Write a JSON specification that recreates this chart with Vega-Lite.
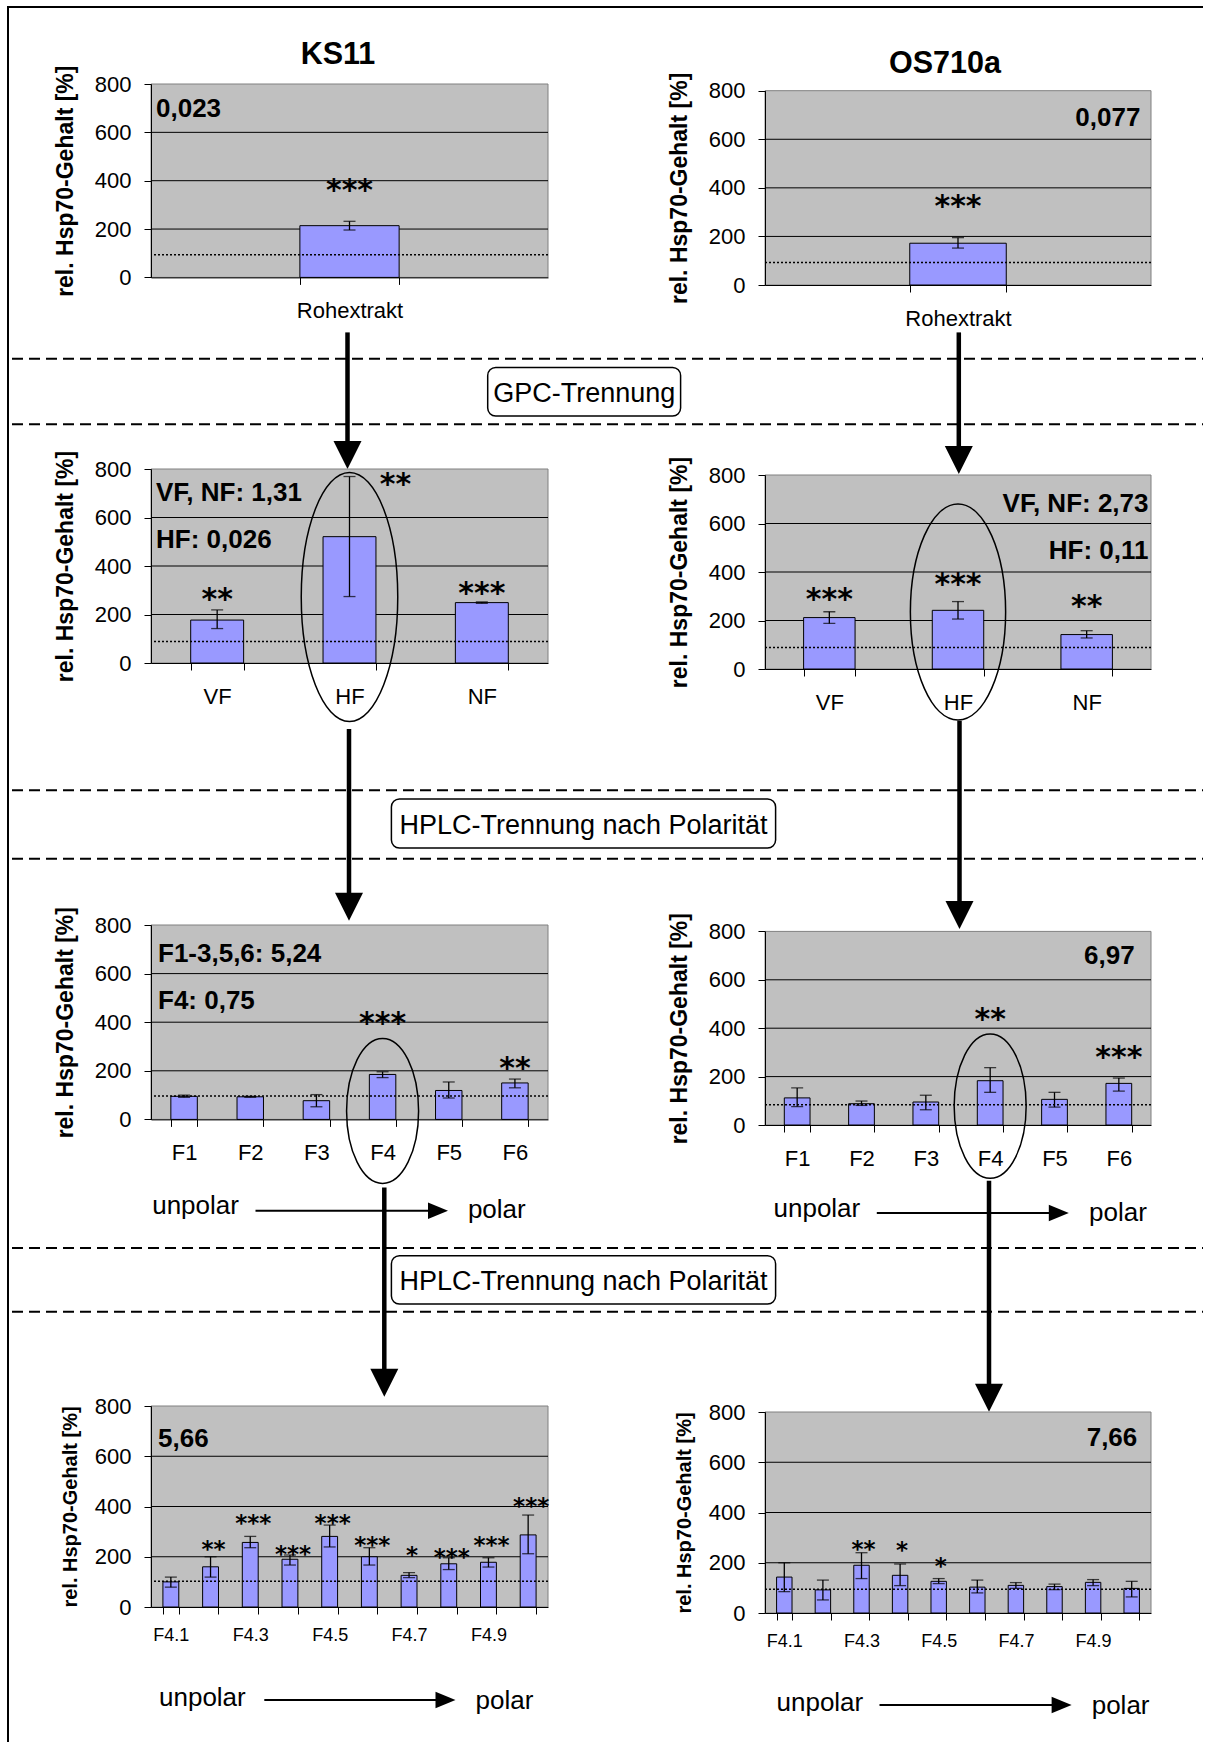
{
"$schema": "https://vega.github.io/schema/vega-lite/v6.json",
"background": "white",
"padding": {"left": 6, "top": 0, "right": 0, "bottom": 0},
"config": {
  "view": {"stroke": null},
  "font": "Liberation Sans",
  "axis": {"labelFont": "Liberation Sans", "titleFont": "Liberation Sans", "domainColor": "black", "tickColor": "black", "labelColor": "black", "titleColor": "black", "grid": false, "domainWidth": 1, "tickWidth": 1}
},
"datasets": {
  "one": [{"n": 1}],
  "ks_roh": [{"fraction": "Rohextrakt", "value": 214, "lo": 196, "hi": 232, "sig": "***", "sig_y": 389}],
  "os_roh": [{"fraction": "Rohextrakt", "value": 172, "lo": 152, "hi": 195, "sig": "***", "sig_y": 355}],
  "ks_gpc": [
    {"fraction": "VF", "value": 177, "lo": 142, "hi": 219, "sig": "**", "sig_y": 291},
    {"fraction": "HF", "value": 521, "lo": 274, "hi": 769, "sig": "**", "sig_y": 766},
    {"fraction": "NF", "value": 249, "lo": 246, "hi": 252, "sig": "***", "sig_y": 316}],
  "os_gpc": [
    {"fraction": "VF", "value": 212, "lo": 188, "hi": 236, "sig": "***", "sig_y": 316},
    {"fraction": "HF", "value": 242, "lo": 206, "hi": 278, "sig": "***", "sig_y": 378},
    {"fraction": "NF", "value": 142, "lo": 128, "hi": 158, "sig": "**", "sig_y": 289}],
  "ks_hplc": [
    {"fraction": "F1", "value": 95, "lo": 91, "hi": 100, "sig": "", "sig_y": null},
    {"fraction": "F2", "value": 93, "lo": 91, "hi": 95, "sig": "", "sig_y": null},
    {"fraction": "F3", "value": 77, "lo": 52, "hi": 102, "sig": "", "sig_y": null},
    {"fraction": "F4", "value": 185, "lo": 172, "hi": 196, "sig": "***", "sig_y": 427},
    {"fraction": "F5", "value": 119, "lo": 88, "hi": 154, "sig": "", "sig_y": null},
    {"fraction": "F6", "value": 150, "lo": 130, "hi": 166, "sig": "**", "sig_y": 241}],
  "os_hplc": [
    {"fraction": "F1", "value": 112, "lo": 76, "hi": 153, "sig": "", "sig_y": null},
    {"fraction": "F2", "value": 88, "lo": 81, "hi": 99, "sig": "", "sig_y": null},
    {"fraction": "F3", "value": 95, "lo": 63, "hi": 123, "sig": "", "sig_y": null},
    {"fraction": "F4", "value": 183, "lo": 135, "hi": 237, "sig": "**", "sig_y": 468},
    {"fraction": "F5", "value": 106, "lo": 74, "hi": 135, "sig": "", "sig_y": null},
    {"fraction": "F6", "value": 172, "lo": 140, "hi": 194, "sig": "***", "sig_y": 310}],
  "ks_f4": [
    {"fraction": "F4.1", "value": 100, "lo": 79, "hi": 119, "sig": "", "sig_y": null},
    {"fraction": "F4.2", "value": 160, "lo": 119, "hi": 200, "sig": "**", "sig_y": 249},
    {"fraction": "F4.3", "value": 257, "lo": 236, "hi": 281, "sig": "***", "sig_y": 355},
    {"fraction": "F4.4", "value": 190, "lo": 167, "hi": 207, "sig": "***", "sig_y": 229},
    {"fraction": "F4.5", "value": 281, "lo": 239, "hi": 326, "sig": "***", "sig_y": 353},
    {"fraction": "F4.6", "value": 200, "lo": 167, "hi": 236, "sig": "***", "sig_y": 265},
    {"fraction": "F4.7", "value": 126, "lo": 117, "hi": 137, "sig": "*", "sig_y": 225},
    {"fraction": "F4.8", "value": 172, "lo": 149, "hi": 196, "sig": "***", "sig_y": 220},
    {"fraction": "F4.9", "value": 178, "lo": 159, "hi": 196, "sig": "***", "sig_y": 265},
    {"fraction": "F4.10", "value": 287, "lo": 212, "hi": 366, "sig": "***", "sig_y": 422}],
  "os_f4": [
    {"fraction": "F4.1", "value": 143, "lo": 85, "hi": 200, "sig": "", "sig_y": null},
    {"fraction": "F4.2", "value": 92, "lo": 52, "hi": 131, "sig": "", "sig_y": null},
    {"fraction": "F4.3", "value": 190, "lo": 137, "hi": 240, "sig": "**", "sig_y": 276},
    {"fraction": "F4.4", "value": 150, "lo": 109, "hi": 195, "sig": "*", "sig_y": 270},
    {"fraction": "F4.5", "value": 126, "lo": 117, "hi": 137, "sig": "*", "sig_y": 207},
    {"fraction": "F4.6", "value": 103, "lo": 80, "hi": 131, "sig": "", "sig_y": null},
    {"fraction": "F4.7", "value": 110, "lo": 98, "hi": 121, "sig": "", "sig_y": null},
    {"fraction": "F4.8", "value": 105, "lo": 93, "hi": 115, "sig": "", "sig_y": null},
    {"fraction": "F4.9", "value": 122, "lo": 109, "hi": 133, "sig": "", "sig_y": null},
    {"fraction": "F4.10", "value": 98, "lo": 64, "hi": 126, "sig": "", "sig_y": null}]
},
"columns": 2,
"bounds": "flush",
"align": "each",
"spacing": {"row": 0, "column": 217},
"concat": [
{"width": 397, "height": 83.3, "data": {"name": "one"}, "layer": [
  {"mark": {"type": "rule", "color": "black", "strokeWidth": 2}, "encoding": {"x": {"datum": 7, "type": "quantitative", "scale": {"domain": [150, 547], "nice": false, "zero": false}, "axis": null}, "y": {"datum": 7, "type": "quantitative", "scale": {"domain": [0, 83.3], "reverse": true, "nice": false, "zero": false}, "axis": null}, "y2": {"datum": 1742}}},
  {"mark": {"type": "rule", "color": "black", "strokeWidth": 2}, "encoding": {"x": {"datum": 6, "type": "quantitative", "axis": null}, "x2": {"datum": 1202}, "y": {"datum": 7, "type": "quantitative", "axis": null}}},
  {"mark": {"type": "text", "text": "KS11", "fontSize": 30.5, "fontWeight": "bold", "baseline": "middle", "color": "black"}, "encoding": {"x": {"datum": 337, "type": "quantitative", "axis": null}, "y": {"datum": 55.1, "type": "quantitative", "axis": null}}}
]},
{"width": 386, "height": 83.3, "data": {"name": "one"}, "layer": [
  {"mark": {"type": "text", "text": "OS710a", "fontSize": 30.5, "fontWeight": "bold", "baseline": "middle", "color": "black"}, "encoding": {"x": {"datum": 944, "type": "quantitative", "scale": {"domain": [764, 1150], "nice": false, "zero": false}, "axis": null}, "y": {"datum": 63.5, "type": "quantitative", "scale": {"domain": [0, 83.3], "reverse": true, "nice": false, "zero": false}, "axis": null}}}
]},
{"width": 397, "height": 193.4, "layer": [
  {"data": {"name": "one"}, "mark": {"type": "rect", "fill": "#c0c0c0", "stroke": "#808080", "strokeWidth": 1}, "encoding": {"y": {"datum": 0, "type": "quantitative", "scale": {"domain": [0, 800], "nice": false}, "axis": {"title": "rel. Hsp70-Gehalt [%]", "values": [0, 200, 400, 600, 800], "grid": false, "labelFontSize": 22, "labelPadding": 13, "tickSize": 7, "titleFontSize": 23, "titleFontWeight": "bold", "titlePadding": 17, "zindex": 1}}, "y2": {"datum": 800}}},
  {"data": {"name": "one"}, "mark": {"type": "rule", "color": "black", "strokeWidth": 1}, "encoding": {"y": {"datum": 200, "type": "quantitative"}}},
  {"data": {"name": "one"}, "mark": {"type": "rule", "color": "black", "strokeWidth": 1}, "encoding": {"y": {"datum": 400, "type": "quantitative"}}},
  {"data": {"name": "one"}, "mark": {"type": "rule", "color": "black", "strokeWidth": 1}, "encoding": {"y": {"datum": 600, "type": "quantitative"}}},
  {"data": {"name": "ks_roh"}, "mark": {"type": "bar", "fill": "#9999ff", "stroke": "black", "strokeWidth": 1}, "encoding": {"x": {"field": "fraction", "type": "nominal", "scale": {"domain": ["Rohextrakt"], "paddingInner": 0.75, "paddingOuter": 0.375}, "axis": {"title": null, "tickBand": "extent", "labelAngle": 0, "labelFontSize": 22, "labelPadding": 16, "tickSize": 7, "zindex": 1}}, "y": {"field": "value", "type": "quantitative"}}},
  {"data": {"name": "one"}, "mark": {"type": "rule", "color": "black", "strokeWidth": 1.5, "strokeDash": [2, 2]}, "encoding": {"y": {"datum": 94, "type": "quantitative"}}},
  {"data": {"name": "ks_roh"}, "mark": {"type": "rule", "color": "black", "strokeWidth": 1.3}, "encoding": {"x": {"field": "fraction", "type": "nominal"}, "y": {"field": "lo", "type": "quantitative"}, "y2": {"field": "hi"}}},
  {"data": {"name": "ks_roh"}, "transform": [{"fold": ["lo", "hi"], "as": ["end", "level"]}], "mark": {"type": "tick", "color": "black", "size": 12, "thickness": 1.3}, "encoding": {"x": {"field": "fraction", "type": "nominal"}, "y": {"field": "level", "type": "quantitative"}}},
  {"data": {"name": "ks_roh"}, "transform": [{"filter": "isValid(datum.sig_y)"}], "mark": {"type": "text", "font": "DejaVu Sans", "fontWeight": "bold", "fontSize": 30, "baseline": "middle", "dy": 8, "color": "black"}, "encoding": {"x": {"field": "fraction", "type": "nominal"}, "y": {"field": "sig_y", "type": "quantitative"}, "text": {"field": "sig"}}},
  {"data": {"name": "one"}, "mark": {"type": "text", "text": "0,023", "fontSize": 26, "fontWeight": "bold", "align": "left", "baseline": "middle", "x": 5, "color": "black"}, "encoding": {"y": {"datum": 697, "type": "quantitative"}}}
]},
{"width": 386, "height": 201, "layer": [
  {"data": {"name": "one"}, "mark": {"type": "rect", "fill": "#c0c0c0", "stroke": "#808080", "strokeWidth": 1}, "encoding": {"y": {"datum": 0, "type": "quantitative", "scale": {"domain": [0, 800], "nice": false, "range": [201, 6.7]}, "axis": {"title": "rel. Hsp70-Gehalt [%]", "values": [0, 200, 400, 600, 800], "grid": false, "labelFontSize": 22, "labelPadding": 13, "tickSize": 7, "titleFontSize": 23, "titleFontWeight": "bold", "titlePadding": 17, "zindex": 1}}, "y2": {"datum": 800}}},
  {"data": {"name": "one"}, "mark": {"type": "rule", "color": "black", "strokeWidth": 1}, "encoding": {"y": {"datum": 200, "type": "quantitative"}}},
  {"data": {"name": "one"}, "mark": {"type": "rule", "color": "black", "strokeWidth": 1}, "encoding": {"y": {"datum": 400, "type": "quantitative"}}},
  {"data": {"name": "one"}, "mark": {"type": "rule", "color": "black", "strokeWidth": 1}, "encoding": {"y": {"datum": 600, "type": "quantitative"}}},
  {"data": {"name": "os_roh"}, "mark": {"type": "bar", "fill": "#9999ff", "stroke": "black", "strokeWidth": 1}, "encoding": {"x": {"field": "fraction", "type": "nominal", "scale": {"domain": ["Rohextrakt"], "paddingInner": 0.75, "paddingOuter": 0.375}, "axis": {"title": null, "tickBand": "extent", "labelAngle": 0, "labelFontSize": 22, "labelPadding": 16, "tickSize": 7, "zindex": 1}}, "y": {"field": "value", "type": "quantitative"}}},
  {"data": {"name": "one"}, "mark": {"type": "rule", "color": "black", "strokeWidth": 1.5, "strokeDash": [2, 2]}, "encoding": {"y": {"datum": 93, "type": "quantitative"}}},
  {"data": {"name": "os_roh"}, "mark": {"type": "rule", "color": "black", "strokeWidth": 1.3}, "encoding": {"x": {"field": "fraction", "type": "nominal"}, "y": {"field": "lo", "type": "quantitative"}, "y2": {"field": "hi"}}},
  {"data": {"name": "os_roh"}, "transform": [{"fold": ["lo", "hi"], "as": ["end", "level"]}], "mark": {"type": "tick", "color": "black", "size": 12, "thickness": 1.3}, "encoding": {"x": {"field": "fraction", "type": "nominal"}, "y": {"field": "level", "type": "quantitative"}}},
  {"data": {"name": "os_roh"}, "transform": [{"filter": "isValid(datum.sig_y)"}], "mark": {"type": "text", "font": "DejaVu Sans", "fontWeight": "bold", "fontSize": 30, "baseline": "middle", "dy": 8, "color": "black"}, "encoding": {"x": {"field": "fraction", "type": "nominal"}, "y": {"field": "sig_y", "type": "quantitative"}, "text": {"field": "sig"}}},
  {"data": {"name": "one"}, "mark": {"type": "text", "text": "0,077", "fontSize": 26, "fontWeight": "bold", "align": "right", "baseline": "middle", "x": "width", "dx": -10.6, "color": "black"}, "encoding": {"y": {"datum": 688, "type": "quantitative"}}}
]},
{"width": 397, "height": 184, "data": {"name": "one"}, "layer": [
  {"mark": {"type": "rule", "color": "black", "strokeWidth": 2, "strokeDash": [11, 6]}, "encoding": {"x": {"datum": 11, "type": "quantitative", "scale": {"domain": [150, 547], "nice": false, "zero": false}, "axis": null}, "x2": {"datum": 1202}, "y": {"datum": 358, "type": "quantitative", "scale": {"domain": [284.3, 468.3], "reverse": true, "nice": false, "zero": false}, "axis": null}}},
  {"mark": {"type": "rule", "color": "black", "strokeWidth": 2, "strokeDash": [11, 6]}, "encoding": {"x": {"datum": 11, "type": "quantitative", "axis": null}, "x2": {"datum": 1202}, "y": {"datum": 423.5, "type": "quantitative", "axis": null}}},
  {"mark": {"type": "rect", "fill": "white", "stroke": "black", "strokeWidth": 1.5, "cornerRadius": 8}, "encoding": {"x": {"datum": 486.7, "type": "quantitative", "axis": null}, "x2": {"datum": 679.6}, "y": {"datum": 366.7, "type": "quantitative", "axis": null}, "y2": {"datum": 415.3}}},
  {"mark": {"type": "text", "text": "GPC-Trennung", "fontSize": 27, "align": "center", "baseline": "alphabetic", "color": "black"}, "encoding": {"x": {"datum": 583.2, "type": "quantitative", "axis": null}, "y": {"datum": 400.9, "type": "quantitative", "axis": null}}},
  {"mark": {"type": "rule", "color": "black", "strokeWidth": 4.5}, "encoding": {"x": {"datum": 346.5, "type": "quantitative", "axis": null}, "y": {"datum": 331.7, "type": "quantitative", "axis": null}, "y2": {"datum": 448}}},
  {"mark": {"type": "point", "shape": "M -1 -1 L 1 -1 L 0 1 Z", "size": 784, "filled": true, "color": "black", "opacity": 1, "strokeWidth": 0}, "encoding": {"x": {"datum": 346.5, "type": "quantitative", "axis": null}, "y": {"datum": 454.3, "type": "quantitative", "axis": null}}}
]},
{"width": 386, "height": 184, "data": {"name": "one"}, "layer": [
  {"mark": {"type": "rule", "color": "black", "strokeWidth": 4.5}, "encoding": {"x": {"datum": 957.8, "type": "quantitative", "scale": {"domain": [764, 1150], "nice": false, "zero": false}, "axis": null}, "y": {"datum": 331.7, "type": "quantitative", "scale": {"domain": [284.3, 468.3], "reverse": true, "nice": false, "zero": false}, "axis": null}, "y2": {"datum": 453}}},
  {"mark": {"type": "point", "shape": "M -1 -1 L 1 -1 L 0 1 Z", "size": 784, "filled": true, "color": "black", "opacity": 1, "strokeWidth": 0}, "encoding": {"x": {"datum": 957.8, "type": "quantitative", "axis": null}, "y": {"datum": 459.3, "type": "quantitative", "axis": null}}}
]},
{"width": 397, "height": 194, "layer": [
  {"data": {"name": "one"}, "mark": {"type": "rect", "fill": "#c0c0c0", "stroke": "#808080", "strokeWidth": 1}, "encoding": {"y": {"datum": 0, "type": "quantitative", "scale": {"domain": [0, 800], "nice": false}, "axis": {"title": "rel. Hsp70-Gehalt [%]", "values": [0, 200, 400, 600, 800], "grid": false, "labelFontSize": 22, "labelPadding": 13, "tickSize": 7, "titleFontSize": 23, "titleFontWeight": "bold", "titlePadding": 17, "zindex": 1}}, "y2": {"datum": 800}}},
  {"data": {"name": "one"}, "mark": {"type": "rule", "color": "black", "strokeWidth": 1}, "encoding": {"y": {"datum": 200, "type": "quantitative"}}},
  {"data": {"name": "one"}, "mark": {"type": "rule", "color": "black", "strokeWidth": 1}, "encoding": {"y": {"datum": 400, "type": "quantitative"}}},
  {"data": {"name": "one"}, "mark": {"type": "rule", "color": "black", "strokeWidth": 1}, "encoding": {"y": {"datum": 600, "type": "quantitative"}}},
  {"data": {"name": "ks_gpc"}, "mark": {"type": "bar", "fill": "#9999ff", "stroke": "black", "strokeWidth": 1}, "encoding": {"x": {"field": "fraction", "type": "nominal", "scale": {"domain": ["VF", "HF", "NF"], "paddingInner": 0.6, "paddingOuter": 0.3}, "axis": {"title": null, "tickBand": "extent", "labelAngle": 0, "labelFontSize": 22, "labelPadding": 16, "tickSize": 7, "zindex": 1}}, "y": {"field": "value", "type": "quantitative"}}},
  {"data": {"name": "one"}, "mark": {"type": "rule", "color": "black", "strokeWidth": 1.5, "strokeDash": [2, 2]}, "encoding": {"y": {"datum": 89, "type": "quantitative"}}},
  {"data": {"name": "ks_gpc"}, "mark": {"type": "rule", "color": "black", "strokeWidth": 1.3}, "encoding": {"x": {"field": "fraction", "type": "nominal"}, "y": {"field": "lo", "type": "quantitative"}, "y2": {"field": "hi"}}},
  {"data": {"name": "ks_gpc"}, "transform": [{"fold": ["lo", "hi"], "as": ["end", "level"]}], "mark": {"type": "tick", "color": "black", "size": 12, "thickness": 1.3}, "encoding": {"x": {"field": "fraction", "type": "nominal"}, "y": {"field": "level", "type": "quantitative"}}},
  {"data": {"name": "ks_gpc"}, "transform": [{"filter": "isValid(datum.sig_y) && datum.fraction != 'HF'"}], "mark": {"type": "text", "font": "DejaVu Sans", "fontWeight": "bold", "fontSize": 30, "baseline": "middle", "dy": 8, "color": "black"}, "encoding": {"x": {"field": "fraction", "type": "nominal"}, "y": {"field": "sig_y", "type": "quantitative"}, "text": {"field": "sig"}}},
  {"data": {"name": "ks_gpc"}, "transform": [{"filter": "datum.fraction == 'HF'"}], "mark": {"type": "text", "font": "DejaVu Sans", "fontWeight": "bold", "fontSize": 30, "baseline": "middle", "dy": 8, "dx": 46, "color": "black"}, "encoding": {"x": {"field": "fraction", "type": "nominal"}, "y": {"field": "sig_y", "type": "quantitative"}, "text": {"field": "sig"}}},
  {"data": {"name": "one"}, "mark": {"type": "text", "text": "VF, NF: 1,31", "fontSize": 26, "fontWeight": "bold", "align": "left", "baseline": "middle", "x": 5, "color": "black"}, "encoding": {"y": {"datum": 699, "type": "quantitative"}}},
  {"data": {"name": "one"}, "mark": {"type": "text", "text": "HF: 0,026", "fontSize": 26, "fontWeight": "bold", "align": "left", "baseline": "middle", "x": 5, "color": "black"}, "encoding": {"y": {"datum": 508.5, "type": "quantitative"}}},
  {"data": {"name": "one"}, "mark": {"type": "point", "shape": "M 0 -1 A 0.3876 1 0 1 1 0 1 A 0.3876 1 0 1 1 0 -1 Z", "size": 62001, "filled": false, "color": "black", "stroke": "black", "strokeWidth": 1.5, "opacity": 1}, "encoding": {"x": {"datum": "HF", "type": "nominal"}, "y": {"datum": 272, "type": "quantitative"}}}
]},
{"width": 386, "height": 200, "layer": [
  {"data": {"name": "one"}, "mark": {"type": "rect", "fill": "#c0c0c0", "stroke": "#808080", "strokeWidth": 1}, "encoding": {"y": {"datum": 0, "type": "quantitative", "scale": {"domain": [0, 800], "nice": false, "range": [200, 6]}, "axis": {"title": "rel. Hsp70-Gehalt [%]", "values": [0, 200, 400, 600, 800], "grid": false, "labelFontSize": 22, "labelPadding": 13, "tickSize": 7, "titleFontSize": 23, "titleFontWeight": "bold", "titlePadding": 17, "zindex": 1}}, "y2": {"datum": 800}}},
  {"data": {"name": "one"}, "mark": {"type": "rule", "color": "black", "strokeWidth": 1}, "encoding": {"y": {"datum": 200, "type": "quantitative"}}},
  {"data": {"name": "one"}, "mark": {"type": "rule", "color": "black", "strokeWidth": 1}, "encoding": {"y": {"datum": 400, "type": "quantitative"}}},
  {"data": {"name": "one"}, "mark": {"type": "rule", "color": "black", "strokeWidth": 1}, "encoding": {"y": {"datum": 600, "type": "quantitative"}}},
  {"data": {"name": "os_gpc"}, "mark": {"type": "bar", "fill": "#9999ff", "stroke": "black", "strokeWidth": 1}, "encoding": {"x": {"field": "fraction", "type": "nominal", "scale": {"domain": ["VF", "HF", "NF"], "paddingInner": 0.6, "paddingOuter": 0.3}, "axis": {"title": null, "tickBand": "extent", "labelAngle": 0, "labelFontSize": 22, "labelPadding": 16, "tickSize": 7, "zindex": 1}}, "y": {"field": "value", "type": "quantitative"}}},
  {"data": {"name": "one"}, "mark": {"type": "rule", "color": "black", "strokeWidth": 1.5, "strokeDash": [2, 2]}, "encoding": {"y": {"datum": 89, "type": "quantitative"}}},
  {"data": {"name": "os_gpc"}, "mark": {"type": "rule", "color": "black", "strokeWidth": 1.3}, "encoding": {"x": {"field": "fraction", "type": "nominal"}, "y": {"field": "lo", "type": "quantitative"}, "y2": {"field": "hi"}}},
  {"data": {"name": "os_gpc"}, "transform": [{"fold": ["lo", "hi"], "as": ["end", "level"]}], "mark": {"type": "tick", "color": "black", "size": 12, "thickness": 1.3}, "encoding": {"x": {"field": "fraction", "type": "nominal"}, "y": {"field": "level", "type": "quantitative"}}},
  {"data": {"name": "os_gpc"}, "transform": [{"filter": "isValid(datum.sig_y)"}], "mark": {"type": "text", "font": "DejaVu Sans", "fontWeight": "bold", "fontSize": 30, "baseline": "middle", "dy": 8, "color": "black"}, "encoding": {"x": {"field": "fraction", "type": "nominal"}, "y": {"field": "sig_y", "type": "quantitative"}, "text": {"field": "sig"}}},
  {"data": {"name": "one"}, "mark": {"type": "text", "text": "VF, NF: 2,73", "fontSize": 26, "fontWeight": "bold", "align": "right", "baseline": "middle", "x": "width", "dx": -2.5, "color": "black"}, "encoding": {"y": {"datum": 680, "type": "quantitative"}}},
  {"data": {"name": "one"}, "mark": {"type": "text", "text": "HF: 0,11", "fontSize": 26, "fontWeight": "bold", "align": "right", "baseline": "middle", "x": "width", "dx": -2.5, "color": "black"}, "encoding": {"y": {"datum": 488, "type": "quantitative"}}},
  {"data": {"name": "one"}, "mark": {"type": "point", "shape": "M 0 -1 A 0.441 1 0 1 1 0 1 A 0.441 1 0 1 1 0 -1 Z", "size": 46656, "filled": false, "color": "black", "stroke": "black", "strokeWidth": 1.5, "opacity": 1}, "encoding": {"x": {"datum": "HF", "type": "nominal"}, "y": {"datum": 235, "type": "quantitative"}}}
]},
{"width": 397, "height": 256, "data": {"name": "one"}, "layer": [
  {"mark": {"type": "rule", "color": "black", "strokeWidth": 2, "strokeDash": [11, 6]}, "encoding": {"x": {"datum": 11, "type": "quantitative", "scale": {"domain": [150, 547], "nice": false, "zero": false}, "axis": null}, "x2": {"datum": 1202}, "y": {"datum": 789.5, "type": "quantitative", "scale": {"domain": [668.3, 924.3], "reverse": true, "nice": false, "zero": false}, "axis": null}}},
  {"mark": {"type": "rule", "color": "black", "strokeWidth": 2, "strokeDash": [11, 6]}, "encoding": {"x": {"datum": 11, "type": "quantitative", "axis": null}, "x2": {"datum": 1202}, "y": {"datum": 858, "type": "quantitative", "axis": null}}},
  {"mark": {"type": "rect", "fill": "white", "stroke": "black", "strokeWidth": 1.5, "cornerRadius": 8}, "encoding": {"x": {"datum": 390.4, "type": "quantitative", "axis": null}, "x2": {"datum": 774.6}, "y": {"datum": 798.3, "type": "quantitative", "axis": null}, "y2": {"datum": 847.3}}},
  {"mark": {"type": "text", "text": "HPLC-Trennung nach Polarität", "fontSize": 27, "align": "center", "baseline": "alphabetic", "color": "black"}, "encoding": {"x": {"datum": 582.5, "type": "quantitative", "axis": null}, "y": {"datum": 833.5, "type": "quantitative", "axis": null}}},
  {"mark": {"type": "rule", "color": "black", "strokeWidth": 4.5}, "encoding": {"x": {"datum": 348, "type": "quantitative", "axis": null}, "y": {"datum": 728.3, "type": "quantitative", "axis": null}, "y2": {"datum": 900}}},
  {"mark": {"type": "point", "shape": "M -1 -1 L 1 -1 L 0 1 Z", "size": 784, "filled": true, "color": "black", "opacity": 1, "strokeWidth": 0}, "encoding": {"x": {"datum": 348, "type": "quantitative", "axis": null}, "y": {"datum": 906, "type": "quantitative", "axis": null}}}
]},
{"width": 386, "height": 256, "data": {"name": "one"}, "layer": [
  {"mark": {"type": "rule", "color": "black", "strokeWidth": 4.5}, "encoding": {"x": {"datum": 958.5, "type": "quantitative", "scale": {"domain": [764, 1150], "nice": false, "zero": false}, "axis": null}, "y": {"datum": 720, "type": "quantitative", "scale": {"domain": [668.3, 924.3], "reverse": true, "nice": false, "zero": false}, "axis": null}, "y2": {"datum": 908}}},
  {"mark": {"type": "point", "shape": "M -1 -1 L 1 -1 L 0 1 Z", "size": 784, "filled": true, "color": "black", "opacity": 1, "strokeWidth": 0}, "encoding": {"x": {"datum": 958.5, "type": "quantitative", "axis": null}, "y": {"datum": 914.3, "type": "quantitative", "axis": null}}}
]},
{"width": 397, "height": 194.4, "layer": [
  {"data": {"name": "one"}, "mark": {"type": "rect", "fill": "#c0c0c0", "stroke": "#808080", "strokeWidth": 1}, "encoding": {"y": {"datum": 0, "type": "quantitative", "scale": {"domain": [0, 800], "nice": false}, "axis": {"title": "rel. Hsp70-Gehalt [%]", "values": [0, 200, 400, 600, 800], "grid": false, "labelFontSize": 22, "labelPadding": 13, "tickSize": 7, "titleFontSize": 23, "titleFontWeight": "bold", "titlePadding": 17, "zindex": 1}}, "y2": {"datum": 800}}},
  {"data": {"name": "one"}, "mark": {"type": "rule", "color": "black", "strokeWidth": 1}, "encoding": {"y": {"datum": 200, "type": "quantitative"}}},
  {"data": {"name": "one"}, "mark": {"type": "rule", "color": "black", "strokeWidth": 1}, "encoding": {"y": {"datum": 400, "type": "quantitative"}}},
  {"data": {"name": "one"}, "mark": {"type": "rule", "color": "black", "strokeWidth": 1}, "encoding": {"y": {"datum": 600, "type": "quantitative"}}},
  {"data": {"name": "ks_hplc"}, "mark": {"type": "bar", "fill": "#9999ff", "stroke": "black", "strokeWidth": 1}, "encoding": {"x": {"field": "fraction", "type": "nominal", "scale": {"domain": ["F1", "F2", "F3", "F4", "F5", "F6"], "paddingInner": 0.6, "paddingOuter": 0.3}, "axis": {"title": null, "tickBand": "extent", "labelAngle": 0, "labelFontSize": 22, "labelPadding": 16, "tickSize": 7, "zindex": 1}}, "y": {"field": "value", "type": "quantitative"}}},
  {"data": {"name": "one"}, "mark": {"type": "rule", "color": "black", "strokeWidth": 1.5, "strokeDash": [2, 2]}, "encoding": {"y": {"datum": 96, "type": "quantitative"}}},
  {"data": {"name": "ks_hplc"}, "mark": {"type": "rule", "color": "black", "strokeWidth": 1.3}, "encoding": {"x": {"field": "fraction", "type": "nominal"}, "y": {"field": "lo", "type": "quantitative"}, "y2": {"field": "hi"}}},
  {"data": {"name": "ks_hplc"}, "transform": [{"fold": ["lo", "hi"], "as": ["end", "level"]}], "mark": {"type": "tick", "color": "black", "size": 12, "thickness": 1.3}, "encoding": {"x": {"field": "fraction", "type": "nominal"}, "y": {"field": "level", "type": "quantitative"}}},
  {"data": {"name": "ks_hplc"}, "transform": [{"filter": "isValid(datum.sig_y)"}], "mark": {"type": "text", "font": "DejaVu Sans", "fontWeight": "bold", "fontSize": 30, "baseline": "middle", "dy": 8, "color": "black"}, "encoding": {"x": {"field": "fraction", "type": "nominal"}, "y": {"field": "sig_y", "type": "quantitative"}, "text": {"field": "sig"}}},
  {"data": {"name": "one"}, "mark": {"type": "text", "text": "F1-3,5,6: 5,24", "fontSize": 26, "fontWeight": "bold", "align": "left", "baseline": "middle", "x": 7, "color": "black"}, "encoding": {"y": {"datum": 681, "type": "quantitative"}}},
  {"data": {"name": "one"}, "mark": {"type": "text", "text": "F4: 0,75", "fontSize": 26, "fontWeight": "bold", "align": "left", "baseline": "middle", "x": 7, "color": "black"}, "encoding": {"y": {"datum": 488.5, "type": "quantitative"}}},
  {"data": {"name": "one"}, "mark": {"type": "point", "shape": "M 0 -1 A 0.4966 1 0 1 1 0 1 A 0.4966 1 0 1 1 0 -1 Z", "size": 21025, "filled": false, "color": "black", "stroke": "black", "strokeWidth": 1.5, "opacity": 1}, "encoding": {"x": {"datum": "F4", "type": "nominal"}, "y": {"datum": 35, "type": "quantitative"}}}
]},
{"width": 386, "height": 200, "layer": [
  {"data": {"name": "one"}, "mark": {"type": "rect", "fill": "#c0c0c0", "stroke": "#808080", "strokeWidth": 1}, "encoding": {"y": {"datum": 0, "type": "quantitative", "scale": {"domain": [0, 800], "nice": false, "range": [200, 6.4]}, "axis": {"title": "rel. Hsp70-Gehalt [%]", "values": [0, 200, 400, 600, 800], "grid": false, "labelFontSize": 22, "labelPadding": 13, "tickSize": 7, "titleFontSize": 23, "titleFontWeight": "bold", "titlePadding": 17, "zindex": 1}}, "y2": {"datum": 800}}},
  {"data": {"name": "one"}, "mark": {"type": "rule", "color": "black", "strokeWidth": 1}, "encoding": {"y": {"datum": 200, "type": "quantitative"}}},
  {"data": {"name": "one"}, "mark": {"type": "rule", "color": "black", "strokeWidth": 1}, "encoding": {"y": {"datum": 400, "type": "quantitative"}}},
  {"data": {"name": "one"}, "mark": {"type": "rule", "color": "black", "strokeWidth": 1}, "encoding": {"y": {"datum": 600, "type": "quantitative"}}},
  {"data": {"name": "os_hplc"}, "mark": {"type": "bar", "fill": "#9999ff", "stroke": "black", "strokeWidth": 1}, "encoding": {"x": {"field": "fraction", "type": "nominal", "scale": {"domain": ["F1", "F2", "F3", "F4", "F5", "F6"], "paddingInner": 0.6, "paddingOuter": 0.3}, "axis": {"title": null, "tickBand": "extent", "labelAngle": 0, "labelFontSize": 22, "labelPadding": 16, "tickSize": 7, "zindex": 1}}, "y": {"field": "value", "type": "quantitative"}}},
  {"data": {"name": "one"}, "mark": {"type": "rule", "color": "black", "strokeWidth": 1.5, "strokeDash": [2, 2]}, "encoding": {"y": {"datum": 84, "type": "quantitative"}}},
  {"data": {"name": "os_hplc"}, "mark": {"type": "rule", "color": "black", "strokeWidth": 1.3}, "encoding": {"x": {"field": "fraction", "type": "nominal"}, "y": {"field": "lo", "type": "quantitative"}, "y2": {"field": "hi"}}},
  {"data": {"name": "os_hplc"}, "transform": [{"fold": ["lo", "hi"], "as": ["end", "level"]}], "mark": {"type": "tick", "color": "black", "size": 12, "thickness": 1.3}, "encoding": {"x": {"field": "fraction", "type": "nominal"}, "y": {"field": "level", "type": "quantitative"}}},
  {"data": {"name": "os_hplc"}, "transform": [{"filter": "isValid(datum.sig_y)"}], "mark": {"type": "text", "font": "DejaVu Sans", "fontWeight": "bold", "fontSize": 30, "baseline": "middle", "dy": 8, "color": "black"}, "encoding": {"x": {"field": "fraction", "type": "nominal"}, "y": {"field": "sig_y", "type": "quantitative"}, "text": {"field": "sig"}}},
  {"data": {"name": "one"}, "mark": {"type": "text", "text": "6,97", "fontSize": 26, "fontWeight": "bold", "align": "right", "baseline": "middle", "x": "width", "dx": -16.4, "color": "black"}, "encoding": {"y": {"datum": 700, "type": "quantitative"}}},
  {"data": {"name": "one"}, "mark": {"type": "point", "shape": "M 0 -1 A 0.4986 1 0 1 1 0 1 A 0.4986 1 0 1 1 0 -1 Z", "size": 20851, "filled": false, "color": "black", "stroke": "black", "strokeWidth": 1.5, "opacity": 1}, "encoding": {"x": {"datum": "F4", "type": "nominal"}, "y": {"datum": 78, "type": "quantitative"}}}
]},
{"width": 397, "height": 280.7, "data": {"name": "one"}, "layer": [
  {"mark": {"type": "text", "text": "unpolar", "fontSize": 26, "align": "left", "baseline": "alphabetic", "color": "black"}, "encoding": {"x": {"datum": 151.2, "type": "quantitative", "scale": {"domain": [150, 547], "nice": false, "zero": false}, "axis": null}, "y": {"datum": 1213.5, "type": "quantitative", "scale": {"domain": [1124.3, 1405], "reverse": true, "nice": false, "zero": false}, "axis": null}}},
  {"mark": {"type": "rule", "color": "black", "strokeWidth": 2}, "encoding": {"x": {"datum": 254.5, "type": "quantitative", "axis": null}, "x2": {"datum": 430}, "y": {"datum": 1210, "type": "quantitative", "axis": null}}},
  {"mark": {"type": "point", "shape": "M -1 -0.83 L 1 0 L -1 0.83 Z", "size": 400, "filled": true, "color": "black", "opacity": 1, "strokeWidth": 0}, "encoding": {"x": {"datum": 437, "type": "quantitative", "axis": null}, "y": {"datum": 1210, "type": "quantitative", "axis": null}}},
  {"mark": {"type": "text", "text": "polar", "fontSize": 26, "align": "left", "baseline": "alphabetic", "color": "black"}, "encoding": {"x": {"datum": 466.9, "type": "quantitative", "axis": null}, "y": {"datum": 1216.8, "type": "quantitative", "axis": null}}},
  {"mark": {"type": "rule", "color": "black", "strokeWidth": 2, "strokeDash": [11, 6]}, "encoding": {"x": {"datum": 11, "type": "quantitative", "axis": null}, "x2": {"datum": 1202}, "y": {"datum": 1247.3, "type": "quantitative", "axis": null}}},
  {"mark": {"type": "rule", "color": "black", "strokeWidth": 2, "strokeDash": [11, 6]}, "encoding": {"x": {"datum": 11, "type": "quantitative", "axis": null}, "x2": {"datum": 1202}, "y": {"datum": 1311, "type": "quantitative", "axis": null}}},
  {"mark": {"type": "rect", "fill": "white", "stroke": "black", "strokeWidth": 1.5, "cornerRadius": 8}, "encoding": {"x": {"datum": 390.4, "type": "quantitative", "axis": null}, "x2": {"datum": 774.6}, "y": {"datum": 1255, "type": "quantitative", "axis": null}, "y2": {"datum": 1303.3}}},
  {"mark": {"type": "text", "text": "HPLC-Trennung nach Polarität", "fontSize": 27, "align": "center", "baseline": "alphabetic", "color": "black"}, "encoding": {"x": {"datum": 582.5, "type": "quantitative", "axis": null}, "y": {"datum": 1288.9, "type": "quantitative", "axis": null}}},
  {"mark": {"type": "rule", "color": "black", "strokeWidth": 4.5}, "encoding": {"x": {"datum": 383.3, "type": "quantitative", "axis": null}, "y": {"datum": 1186.7, "type": "quantitative", "axis": null}, "y2": {"datum": 1376}}},
  {"mark": {"type": "point", "shape": "M -1 -1 L 1 -1 L 0 1 Z", "size": 784, "filled": true, "color": "black", "opacity": 1, "strokeWidth": 0}, "encoding": {"x": {"datum": 383.3, "type": "quantitative", "axis": null}, "y": {"datum": 1382, "type": "quantitative", "axis": null}}}
]},
{"width": 386, "height": 280.7, "data": {"name": "one"}, "layer": [
  {"mark": {"type": "text", "text": "unpolar", "fontSize": 26, "align": "left", "baseline": "alphabetic", "color": "black"}, "encoding": {"x": {"datum": 772.5, "type": "quantitative", "scale": {"domain": [764, 1150], "nice": false, "zero": false}, "axis": null}, "y": {"datum": 1216.5, "type": "quantitative", "scale": {"domain": [1124.3, 1405], "reverse": true, "nice": false, "zero": false}, "axis": null}}},
  {"mark": {"type": "rule", "color": "black", "strokeWidth": 2}, "encoding": {"x": {"datum": 875.8, "type": "quantitative", "axis": null}, "x2": {"datum": 1050}, "y": {"datum": 1212.3, "type": "quantitative", "axis": null}}},
  {"mark": {"type": "point", "shape": "M -1 -0.83 L 1 0 L -1 0.83 Z", "size": 400, "filled": true, "color": "black", "opacity": 1, "strokeWidth": 0}, "encoding": {"x": {"datum": 1057.8, "type": "quantitative", "axis": null}, "y": {"datum": 1212.3, "type": "quantitative", "axis": null}}},
  {"mark": {"type": "text", "text": "polar", "fontSize": 26, "align": "left", "baseline": "alphabetic", "color": "black"}, "encoding": {"x": {"datum": 1088, "type": "quantitative", "axis": null}, "y": {"datum": 1220.5, "type": "quantitative", "axis": null}}},
  {"mark": {"type": "rule", "color": "black", "strokeWidth": 4.5}, "encoding": {"x": {"datum": 988, "type": "quantitative", "axis": null}, "y": {"datum": 1180, "type": "quantitative", "axis": null}, "y2": {"datum": 1391}}},
  {"mark": {"type": "point", "shape": "M -1 -1 L 1 -1 L 0 1 Z", "size": 784, "filled": true, "color": "black", "opacity": 1, "strokeWidth": 0}, "encoding": {"x": {"datum": 988, "type": "quantitative", "axis": null}, "y": {"datum": 1397, "type": "quantitative", "axis": null}}}
]},
{"width": 397, "height": 201, "layer": [
  {"data": {"name": "one"}, "mark": {"type": "rect", "fill": "#c0c0c0", "stroke": "#808080", "strokeWidth": 1}, "encoding": {"y": {"datum": 0, "type": "quantitative", "scale": {"domain": [0, 800], "nice": false}, "axis": {"title": "rel. Hsp70-Gehalt [%]", "values": [0, 200, 400, 600, 800], "grid": false, "labelFontSize": 22, "labelPadding": 13, "tickSize": 7, "titleFontSize": 20, "titleFontWeight": "bold", "titlePadding": 14, "zindex": 1}}, "y2": {"datum": 800}}},
  {"data": {"name": "one"}, "mark": {"type": "rule", "color": "black", "strokeWidth": 1}, "encoding": {"y": {"datum": 200, "type": "quantitative"}}},
  {"data": {"name": "one"}, "mark": {"type": "rule", "color": "black", "strokeWidth": 1}, "encoding": {"y": {"datum": 400, "type": "quantitative"}}},
  {"data": {"name": "one"}, "mark": {"type": "rule", "color": "black", "strokeWidth": 1}, "encoding": {"y": {"datum": 600, "type": "quantitative"}}},
  {"data": {"name": "ks_f4"}, "mark": {"type": "bar", "fill": "#9999ff", "stroke": "black", "strokeWidth": 1}, "encoding": {"x": {"field": "fraction", "type": "nominal", "scale": {"domain": ["F4.1", "F4.2", "F4.3", "F4.4", "F4.5", "F4.6", "F4.7", "F4.8", "F4.9", "F4.10"], "paddingInner": 0.6, "paddingOuter": 0.3}, "axis": {"title": null, "tickBand": "extent", "labelAngle": 0, "labelFontSize": 18, "labelPadding": 12, "tickSize": 7, "zindex": 1, "labelExpr": "indexof(['F4.1','F4.3','F4.5','F4.7','F4.9'], datum.value) >= 0 ? datum.label : ''"}}, "y": {"field": "value", "type": "quantitative"}}},
  {"data": {"name": "one"}, "mark": {"type": "rule", "color": "black", "strokeWidth": 1.5, "strokeDash": [2, 2]}, "encoding": {"y": {"datum": 102, "type": "quantitative"}}},
  {"data": {"name": "ks_f4"}, "mark": {"type": "rule", "color": "black", "strokeWidth": 1.3}, "encoding": {"x": {"field": "fraction", "type": "nominal"}, "y": {"field": "lo", "type": "quantitative"}, "y2": {"field": "hi"}}},
  {"data": {"name": "ks_f4"}, "transform": [{"fold": ["lo", "hi"], "as": ["end", "level"]}], "mark": {"type": "tick", "color": "black", "size": 12, "thickness": 1.3}, "encoding": {"x": {"field": "fraction", "type": "nominal"}, "y": {"field": "level", "type": "quantitative"}}},
  {"data": {"name": "ks_f4"}, "transform": [{"filter": "isValid(datum.sig_y)"}], "mark": {"type": "text", "font": "DejaVu Sans", "fontWeight": "bold", "fontSize": 23, "baseline": "middle", "dy": 6, "dx": 3, "color": "black"}, "encoding": {"x": {"field": "fraction", "type": "nominal"}, "y": {"field": "sig_y", "type": "quantitative"}, "text": {"field": "sig"}}},
  {"data": {"name": "one"}, "mark": {"type": "text", "text": "5,66", "fontSize": 26, "fontWeight": "bold", "align": "left", "baseline": "middle", "x": 7, "color": "black"}, "encoding": {"y": {"datum": 667.5, "type": "quantitative"}}}
]},
{"width": 386, "height": 207, "layer": [
  {"data": {"name": "one"}, "mark": {"type": "rect", "fill": "#c0c0c0", "stroke": "#808080", "strokeWidth": 1}, "encoding": {"y": {"datum": 0, "type": "quantitative", "scale": {"domain": [0, 800], "nice": false, "range": [207, 6]}, "axis": {"title": "rel. Hsp70-Gehalt [%]", "values": [0, 200, 400, 600, 800], "grid": false, "labelFontSize": 22, "labelPadding": 13, "tickSize": 7, "titleFontSize": 20, "titleFontWeight": "bold", "titlePadding": 14, "zindex": 1}}, "y2": {"datum": 800}}},
  {"data": {"name": "one"}, "mark": {"type": "rule", "color": "black", "strokeWidth": 1}, "encoding": {"y": {"datum": 200, "type": "quantitative"}}},
  {"data": {"name": "one"}, "mark": {"type": "rule", "color": "black", "strokeWidth": 1}, "encoding": {"y": {"datum": 400, "type": "quantitative"}}},
  {"data": {"name": "one"}, "mark": {"type": "rule", "color": "black", "strokeWidth": 1}, "encoding": {"y": {"datum": 600, "type": "quantitative"}}},
  {"data": {"name": "os_f4"}, "mark": {"type": "bar", "fill": "#9999ff", "stroke": "black", "strokeWidth": 1}, "encoding": {"x": {"field": "fraction", "type": "nominal", "scale": {"domain": ["F4.1", "F4.2", "F4.3", "F4.4", "F4.5", "F4.6", "F4.7", "F4.8", "F4.9", "F4.10"], "paddingInner": 0.6, "paddingOuter": 0.3}, "axis": {"title": null, "tickBand": "extent", "labelAngle": 0, "labelFontSize": 18, "labelPadding": 12, "tickSize": 7, "zindex": 1, "labelExpr": "indexof(['F4.1','F4.3','F4.5','F4.7','F4.9'], datum.value) >= 0 ? datum.label : ''"}}, "y": {"field": "value", "type": "quantitative"}}},
  {"data": {"name": "one"}, "mark": {"type": "rule", "color": "black", "strokeWidth": 1.5, "strokeDash": [2, 2]}, "encoding": {"y": {"datum": 95, "type": "quantitative"}}},
  {"data": {"name": "os_f4"}, "mark": {"type": "rule", "color": "black", "strokeWidth": 1.3}, "encoding": {"x": {"field": "fraction", "type": "nominal"}, "y": {"field": "lo", "type": "quantitative"}, "y2": {"field": "hi"}}},
  {"data": {"name": "os_f4"}, "transform": [{"fold": ["lo", "hi"], "as": ["end", "level"]}], "mark": {"type": "tick", "color": "black", "size": 12, "thickness": 1.3}, "encoding": {"x": {"field": "fraction", "type": "nominal"}, "y": {"field": "level", "type": "quantitative"}}},
  {"data": {"name": "os_f4"}, "transform": [{"filter": "isValid(datum.sig_y)"}], "mark": {"type": "text", "font": "DejaVu Sans", "fontWeight": "bold", "fontSize": 23, "baseline": "middle", "dy": 6, "dx": 2, "color": "black"}, "encoding": {"x": {"field": "fraction", "type": "nominal"}, "y": {"field": "sig_y", "type": "quantitative"}, "text": {"field": "sig"}}},
  {"data": {"name": "one"}, "mark": {"type": "text", "text": "7,66", "fontSize": 26, "fontWeight": "bold", "align": "right", "baseline": "middle", "x": "width", "dx": -13.7, "color": "black"}, "encoding": {"y": {"datum": 695, "type": "quantitative"}}}
]},
{"width": 397, "height": 130, "data": {"name": "one"}, "layer": [
  {"mark": {"type": "text", "text": "unpolar", "fontSize": 26, "align": "left", "baseline": "alphabetic", "color": "black"}, "encoding": {"x": {"datum": 158, "type": "quantitative", "scale": {"domain": [150, 547], "nice": false, "zero": false}, "axis": null}, "y": {"datum": 1705, "type": "quantitative", "scale": {"domain": [1612, 1742], "reverse": true, "nice": false, "zero": false}, "axis": null}}},
  {"mark": {"type": "rule", "color": "black", "strokeWidth": 2}, "encoding": {"x": {"datum": 263.3, "type": "quantitative", "axis": null}, "x2": {"datum": 437}, "y": {"datum": 1699, "type": "quantitative", "axis": null}}},
  {"mark": {"type": "point", "shape": "M -1 -0.83 L 1 0 L -1 0.83 Z", "size": 400, "filled": true, "color": "black", "opacity": 1, "strokeWidth": 0}, "encoding": {"x": {"datum": 444.5, "type": "quantitative", "axis": null}, "y": {"datum": 1699, "type": "quantitative", "axis": null}}},
  {"mark": {"type": "text", "text": "polar", "fontSize": 26, "align": "left", "baseline": "alphabetic", "color": "black"}, "encoding": {"x": {"datum": 474.5, "type": "quantitative", "axis": null}, "y": {"datum": 1708.3, "type": "quantitative", "axis": null}}}
]},
{"width": 386, "height": 130, "data": {"name": "one"}, "layer": [
  {"mark": {"type": "text", "text": "unpolar", "fontSize": 26, "align": "left", "baseline": "alphabetic", "color": "black"}, "encoding": {"x": {"datum": 775.5, "type": "quantitative", "scale": {"domain": [764, 1150], "nice": false, "zero": false}, "axis": null}, "y": {"datum": 1710, "type": "quantitative", "scale": {"domain": [1612, 1742], "reverse": true, "nice": false, "zero": false}, "axis": null}}},
  {"mark": {"type": "rule", "color": "black", "strokeWidth": 2}, "encoding": {"x": {"datum": 878.5, "type": "quantitative", "axis": null}, "x2": {"datum": 1053}, "y": {"datum": 1704, "type": "quantitative", "axis": null}}},
  {"mark": {"type": "point", "shape": "M -1 -0.83 L 1 0 L -1 0.83 Z", "size": 400, "filled": true, "color": "black", "opacity": 1, "strokeWidth": 0}, "encoding": {"x": {"datum": 1060.6, "type": "quantitative", "axis": null}, "y": {"datum": 1704, "type": "quantitative", "axis": null}}},
  {"mark": {"type": "text", "text": "polar", "fontSize": 26, "align": "left", "baseline": "alphabetic", "color": "black"}, "encoding": {"x": {"datum": 1090.7, "type": "quantitative", "axis": null}, "y": {"datum": 1713.3, "type": "quantitative", "axis": null}}}
]}
]
}
